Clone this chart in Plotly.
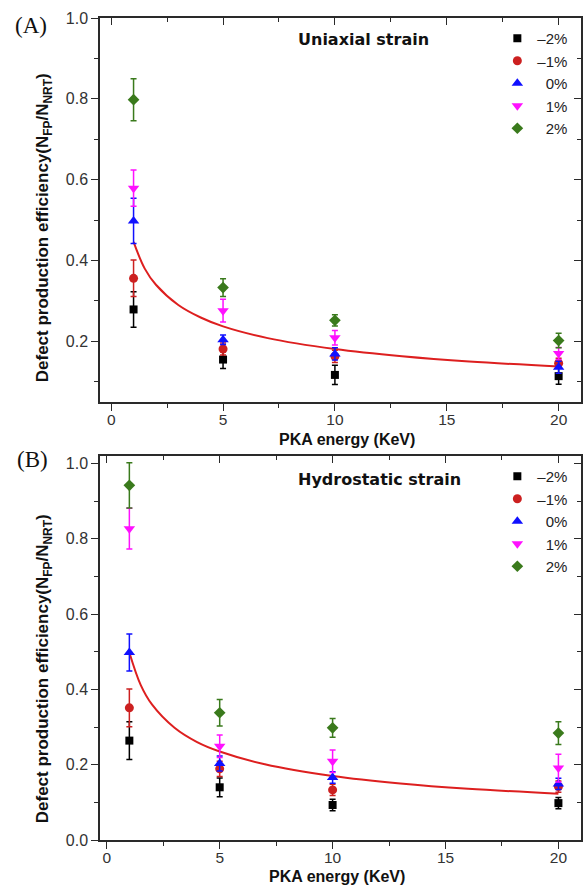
import plotly.graph_objects as go

# ---------------- data ----------------
energy = [1, 5, 10, 20]
strain_labels = ["–2%", "–1%", "\u20070%", "\u20071%", "\u20072%"]

uni_m2 = [0.279, 0.155, 0.117, 0.114]
uni_m2_err = [0.044, 0.022, 0.024, 0.020]
uni_m1 = [0.356, 0.181, 0.163, 0.146]
uni_m1_err = [0.045, 0.015, 0.015, 0.012]
uni_0 = [0.498, 0.204, 0.169, 0.136]
uni_0_err = [0.056, 0.012, 0.015, 0.015]
uni_p1 = [0.579, 0.276, 0.209, 0.170]
uni_p1_err = [0.045, 0.028, 0.018, 0.015]
uni_p2 = [0.798, 0.333, 0.252, 0.202]
uni_p2_err = [0.052, 0.022, 0.014, 0.018]

hyd_m2 = [0.264, 0.140, 0.093, 0.098]
hyd_m2_err = [0.050, 0.025, 0.015, 0.015]
hyd_m1 = [0.351, 0.189, 0.133, 0.142]
hyd_m1_err = [0.050, 0.020, 0.015, 0.015]
hyd_0 = [0.498, 0.203, 0.166, 0.149]
hyd_0_err = [0.049, 0.020, 0.015, 0.015]
hyd_p1 = [0.827, 0.249, 0.209, 0.191]
hyd_p1_err = [0.054, 0.030, 0.030, 0.037]
hyd_p2 = [0.942, 0.338, 0.298, 0.284]
hyd_p2_err = [0.060, 0.035, 0.025, 0.030]

fit_x = [1, 1.5, 2, 3, 4, 5, 7, 10, 13, 16, 20]
uni_fit = [0.446, 0.380, 0.340, 0.290, 0.259, 0.237, 0.208, 0.181, 0.163, 0.150, 0.138]
hyd_fit = [0.498, 0.412, 0.360, 0.298, 0.260, 0.235, 0.201, 0.170, 0.150, 0.136, 0.123]

x_ticks = [0, 5, 10, 15, 20]
uni_y_ticks = [0.2, 0.4, 0.6, 0.8, 1.0]
hyd_y_ticks = [0.0, 0.2, 0.4, 0.6, 0.8, 1.0]

colors = ["#000000", "#CC2020", "#1010FF", "#FF10FF", "#3A7A1C"]
symbols = ["square", "circle", "triangle-up", "triangle-down", "diamond"]
sizes = [8, 9, 10, 10, 9]
fit_color = "#DD1F1F"

uni_series = [(uni_m2, uni_m2_err), (uni_m1, uni_m1_err), (uni_0, uni_0_err),
              (uni_p1, uni_p1_err), (uni_p2, uni_p2_err)]
hyd_series = [(hyd_m2, hyd_m2_err), (hyd_m1, hyd_m1_err), (hyd_0, hyd_0_err),
              (hyd_p1, hyd_p1_err), (hyd_p2, hyd_p2_err)]

# ---------------- figure ----------------
W, H = 586, 885
ML, MR, MT, MB = 100, 3, 18, 45
PW, PH = W - ML - MR, H - MT - MB


def px(xp):
    return (xp - ML) / PW


def py(yp):
    return (H - MB - yp) / PH


fig = go.Figure()

for ax, yax, fit, series, leg in [("x", "y", uni_fit, uni_series, "legend"),
                                  ("x2", "y2", hyd_fit, hyd_series, "legend2")]:
    fig.add_trace(go.Scatter(x=fit_x, y=fit, mode="lines", line=dict(color=fit_color, width=2, shape="spline"),
                             xaxis=ax, yaxis=yax, showlegend=False, hoverinfo="skip"))
    for i, (vals, errs) in enumerate(series):
        fig.add_trace(go.Scatter(
            x=energy, y=vals, mode="markers", name=strain_labels[i],
            marker=dict(symbol=symbols[i], color=colors[i], size=sizes[i]),
            error_y=dict(type="data", array=errs, color=colors[i], thickness=1.5, width=3),
            xaxis=ax, yaxis=yax, legend=leg))

# dummy traces for mirrored (inside) tick axes
fig.add_trace(go.Scatter(x=[None], y=[None], xaxis="x3", yaxis="y3", showlegend=False, hoverinfo="skip"))
fig.add_trace(go.Scatter(x=[None], y=[None], xaxis="x4", yaxis="y4", showlegend=False, hoverinfo="skip"))

axis_col = "#2a2a2a"
tick_font = dict(family="Liberation Sans, Arial, sans-serif", size=16, color="#333333")
xtick_font = dict(family="Liberation Sans, Arial, sans-serif", size=15.5, color="#333333")

top_dom = [py(402), 1.0]
bot_dom = [0.0, py(456)]


def xaxis_main(rng, anchor):
    return dict(range=rng, anchor=anchor, domain=[0, 1], showline=True, linecolor=axis_col, linewidth=1.5,
                mirror=True, ticks="outside", ticklen=7, tickwidth=1.3, tickcolor=axis_col,
                tickvals=x_ticks, ticktext=[str(v) for v in x_ticks], tickfont=xtick_font,
                ticklabelstandoff=-4,
                minor=dict(ticks="outside", ticklen=4, tickwidth=1.3, tickcolor=axis_col, dtick=2.5, tick0=0),
                showgrid=False, zeroline=False, fixedrange=True)


def yaxis_main(rng, anchor, dom, ticks):
    return dict(range=rng, anchor=anchor, domain=dom, showline=True, linecolor=axis_col, linewidth=1.5,
                mirror=True, ticks="outside", ticklen=7, tickwidth=1.3, tickcolor=axis_col,
                tickvals=ticks, ticktext=["%.1f" % v for v in ticks], tickfont=tick_font,
                minor=dict(ticks="outside", ticklen=4, tickwidth=1.3, tickcolor=axis_col, dtick=0.1, tick0=0),
                showgrid=False, zeroline=False, fixedrange=True)


def xaxis_mirror(rng, over, anchor):
    return dict(range=rng, overlaying=over, anchor=anchor, side="top", showline=False, ticks="inside",
                ticklen=7, tickwidth=1.3, tickcolor=axis_col, tickvals=x_ticks, showticklabels=False,
                minor=dict(ticks="inside", ticklen=4, tickwidth=1.3, tickcolor=axis_col, dtick=2.5, tick0=0),
                showgrid=False, zeroline=False, fixedrange=True)


def yaxis_mirror(rng, over, anchor, ticks):
    return dict(range=rng, overlaying=over, anchor=anchor, side="right", showline=False, ticks="inside",
                ticklen=7, tickwidth=1.3, tickcolor=axis_col, tickvals=ticks, showticklabels=False,
                minor=dict(ticks="inside", ticklen=4, tickwidth=1.3, tickcolor=axis_col, dtick=0.1, tick0=0),
                showgrid=False, zeroline=False, fixedrange=True)


uni_xr, uni_yr = [-0.5, 21], [0.05, 1.0]
hyd_xr, hyd_yr = [-0.3, 21], [0.0, 1.02]

legend_common = dict(bgcolor="rgba(0,0,0,0)", borderwidth=0, xanchor="left", yanchor="top",
                     font=dict(family="Liberation Sans, Arial, sans-serif", size=15, color="#222222"),
                     itemwidth=30, tracegroupgap=0)

title_font = dict(family="Liberation Sans, Arial, sans-serif", size=17, color="#111111")
xtitle_font = dict(family="Liberation Sans, Arial, sans-serif", size=16, color="#111111")
panel_font = dict(family="Liberation Serif, DejaVu Serif, serif", size=23, color="#111111")
note_font = dict(family="DejaVu Sans, Verdana, sans-serif", size=16, color="#111111")
ytitle = "<b>Defect production efficiency(N<sub>FP</sub>/N<sub>NRT</sub>)</b>"


def ann(text, xp, yp, font, angle=0, xanchor="center"):
    return dict(text=text, x=px(xp), y=py(yp), xref="paper", yref="paper", showarrow=False,
                xanchor=xanchor, yanchor="middle", textangle=angle, font=font)


fig.update_layout(
    width=W, height=H, margin=dict(l=ML, r=MR, t=MT, b=MB),
    paper_bgcolor="white", plot_bgcolor="white",
    xaxis=xaxis_main(uni_xr, "y"),
    yaxis=yaxis_main(uni_yr, "x", top_dom, uni_y_ticks),
    xaxis2=xaxis_main(hyd_xr, "y2"),
    yaxis2=yaxis_main(hyd_yr, "x2", bot_dom, hyd_y_ticks),
    xaxis3=xaxis_mirror(uni_xr, "x", "y3"),
    yaxis3=yaxis_mirror(uni_yr, "y", "x3", uni_y_ticks),
    xaxis4=xaxis_mirror(hyd_xr, "x2", "y4"),
    yaxis4=yaxis_mirror(hyd_yr, "y2", "x4", hyd_y_ticks),
    legend=dict(x=px(499), y=py(22), **legend_common),
    legend2=dict(x=px(499), y=py(460), **legend_common),
    showlegend=True,
    annotations=[
        ann("(A)", 31, 25, panel_font),
        ann("(B)", 32, 459, panel_font),
        ann(ytitle, 44, 228, title_font, angle=-90),
        ann(ytitle, 44, 669, title_font, angle=-90),
        ann("<b>PKA energy (KeV)</b>", 348, 439, xtitle_font),
        ann("<b>PKA energy (KeV)</b>", 338, 876, xtitle_font),
        ann("<b>Uniaxial strain</b>", 297, 39, note_font, xanchor="left"),
        ann("<b>Hydrostatic strain</b>", 297, 479, note_font, xanchor="left"),
    ],
)

fig.write_html("out.html")
